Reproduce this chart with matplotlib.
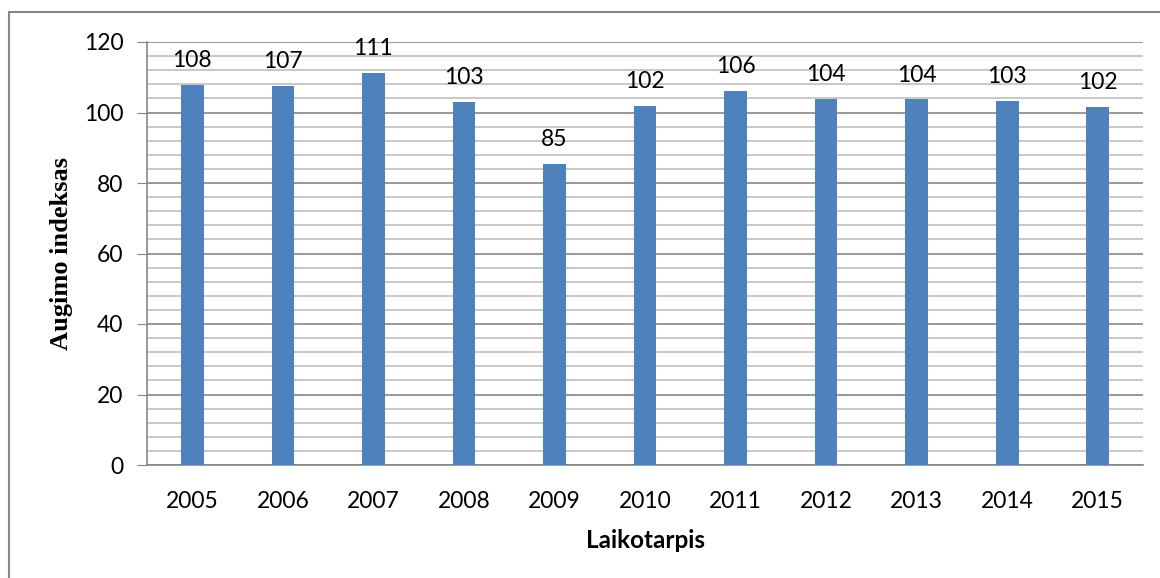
import numpy as np
import matplotlib.pyplot as plt
from matplotlib.patches import Rectangle
from matplotlib.ticker import MultipleLocator

# Data
years = ["2005", "2006", "2007", "2008", "2009", "2010",
         "2011", "2012", "2013", "2014", "2015"]
index_values = [107.8, 107.5, 111.2, 102.9, 85.3, 101.8,
                106.2, 103.8, 103.7, 103.2, 101.6]
value_labels = ["108", "107", "111", "103", "85", "102",
                "106", "104", "104", "103", "102"]

plt.rcParams['font.family'] = ['Lato', 'DejaVu Sans']

fig = plt.figure(figsize=(11.6, 5.78), dpi=100)
ax = fig.add_axes([147/1160, 1 - 465/578, (1143 - 147)/1160, (465 - 42)/578])

x = np.arange(len(years))
bars = ax.bar(x, index_values, width=0.25, color="#4F81BD", zorder=3)

for b, lab in zip(bars, value_labels):
    ax.annotate(lab, (b.get_x() + b.get_width()/2, b.get_height()),
                xytext=(0, 10), textcoords="offset points",
                ha="center", va="bottom", fontsize=16.5)

ax.set_xlim(-0.5, len(years) - 0.5)
ax.set_ylim(0, 120)
ax.yaxis.set_major_locator(MultipleLocator(20))
ax.yaxis.set_minor_locator(MultipleLocator(4))
ax.set_xticks(x)
ax.set_xticklabels(years)
ax.tick_params(axis="x", length=0, labelsize=16.5, pad=19)
ax.tick_params(axis="y", which="major", length=7, color="#868686", labelsize=16.5, pad=10)
ax.tick_params(axis="y", which="minor", length=0)

ax.grid(axis="y", which="major", color="#868686", linewidth=1.2, zorder=0)
ax.grid(axis="y", which="minor", color="#BFBFBF", linewidth=1.2, zorder=0)

for s in ["top", "right"]:
    ax.spines[s].set_visible(False)
for s in ["left", "bottom"]:
    ax.spines[s].set_color("#868686")
    ax.spines[s].set_linewidth(1.2)

ax.set_xlabel("Laikotarpis", fontsize=17.5, fontweight="bold", labelpad=12)
ax.set_ylabel("Augimo indeksas", fontsize=19, fontweight="bold",
              family="Liberation Serif", labelpad=8)

# outer chart border
fig.patches.append(Rectangle((9/1160, -0.05), 1.1, 1 - 12/578 + 0.05,
                             transform=fig.transFigure, fill=False,
                             edgecolor="#868686", linewidth=1.5))

fig.savefig("out.png", dpi=100)
